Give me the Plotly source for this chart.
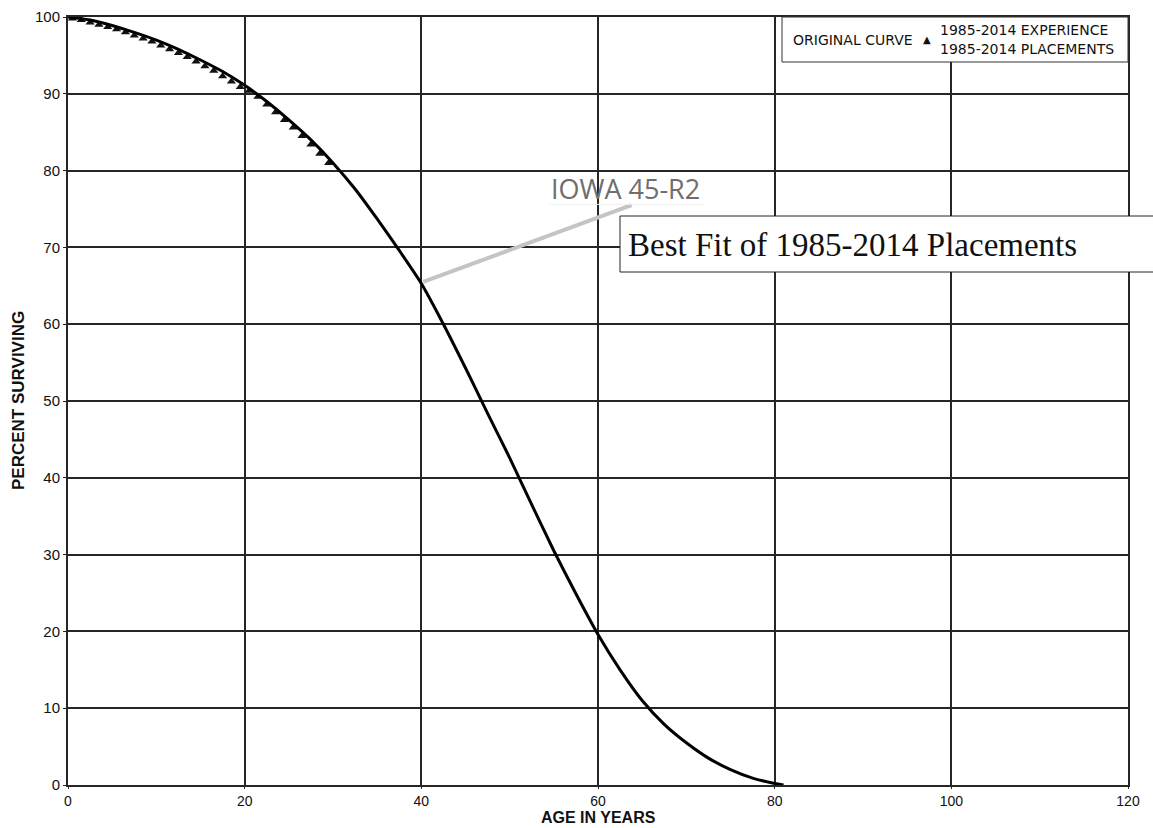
import plotly.graph_objects as go

# Iowa 45-R2 survivor curve (age in years, percent surviving)
curve_age = [0, 2.5, 5, 7.5, 10, 12.5, 15, 17.5, 20, 22.5, 25, 27.5, 30, 32.5, 35,
             37.5, 40, 42.5, 45, 47.5, 50, 52.5, 55, 57.5, 60, 62.5, 65, 67.5, 70,
             72.5, 75, 77.5, 80, 81]
curve_pct = [100, 99.6, 98.9, 98.0, 97.0, 95.8, 94.4, 92.9, 91.1, 89.0, 86.6, 84.0,
             81.0, 77.6, 73.7, 69.6, 65.3, 60.0, 54.3, 48.4, 42.6, 36.5, 30.5, 24.9,
             19.6, 15.0, 11.0, 7.9, 5.5, 3.5, 2.0, 0.9, 0.2, 0]

# 1985-2014 experience, observed percent surviving at mid-year ages
exp_age = [0.5, 1.5, 2.5, 3.5, 4.5, 5.5, 6.5, 7.5, 8.5, 9.5, 10.5, 11.5, 12.5, 13.5,
           14.5, 15.5, 16.5, 17.5, 18.5, 19.5, 20.5, 21.5, 22.5, 23.5, 24.5, 25.5,
           26.5, 27.5, 28.5, 29.5]
exp_pct = [99.8, 99.6, 99.3, 99.0, 98.7, 98.4, 98.0, 97.6, 97.2, 96.8, 96.3, 95.8,
           95.3, 94.8, 94.2, 93.6, 93.0, 92.3, 91.6, 90.9, 90.4, 89.6, 88.6, 87.6,
           86.6, 85.6, 84.5, 83.4, 82.2, 81.0]

x_ticks = [0, 20, 40, 60, 80, 100, 120]
y_ticks = [0, 10, 20, 30, 40, 50, 60, 70, 80, 90, 100]

GRID = "#262626"
TEXT = "#111111"

# plot area in pixels, used to place the key, captions and axis titles
L, R, T, B = 68, 1128, 17, 785


def px(xp):
    return (xp - L) / (R - L)


def py(yp):
    return (B - yp) / (B - T)


fig = go.Figure()

fig.add_trace(go.Scatter(
    x=exp_age, y=exp_pct, mode="markers",
    name="1985-2014 EXPERIENCE",
    marker=dict(symbol="triangle-up", size=8, color="#111111"),
    showlegend=False,
))

fig.add_trace(go.Scatter(
    x=curve_age, y=curve_pct, mode="lines",
    name="IOWA 45-R2",
    line=dict(color="#000000", width=3, shape="spline", smoothing=0.6),
    showlegend=False,
))

# Key box
fig.add_shape(type="rect", xref="paper", yref="paper",
              x0=px(782), x1=px(1128), y0=py(62), y1=py(17),
              line=dict(color="#333333", width=1), fillcolor="white", layer="above")
fig.add_annotation(x=px(791), y=py(40), xref="paper", yref="paper",
                   xanchor="left", yanchor="middle", showarrow=False,
                   text="ORIGINAL CURVE",
                   font=dict(family="DejaVu Sans", size=14, color=TEXT))
fig.add_annotation(x=px(927), y=py(39), xref="paper", yref="paper",
                   xanchor="center", yanchor="middle", showarrow=False,
                   text="▲", font=dict(family="DejaVu Sans", size=10, color=TEXT))
fig.add_annotation(x=px(938), y=py(30), xref="paper", yref="paper",
                   xanchor="left", yanchor="middle", showarrow=False,
                   text="1985-2014 EXPERIENCE",
                   font=dict(family="DejaVu Sans", size=14, color=TEXT))
fig.add_annotation(x=px(938), y=py(49), xref="paper", yref="paper",
                   xanchor="left", yanchor="middle", showarrow=False,
                   text="1985-2014 PLACEMENTS",
                   font=dict(family="DejaVu Sans", size=14, color=TEXT))

# Label of the fitted curve with its leader line
fig.add_shape(type="line", xref="x", yref="y", x0=63.8, y0=75.5, x1=40.2, y1=65.5,
              line=dict(color="#c4c4c4", width=4), layer="above")
fig.add_shape(type="line", xref="x", yref="y", x0=54.5, y0=75.6, x1=72.0, y1=75.6,
              line=dict(color="#eeeeee", width=1), layer="above")
fig.add_annotation(x=px(625), y=py(188), xref="paper", yref="paper", text="IOWA 45-R2",
                   xanchor="center", yanchor="middle",
                   showarrow=False, font=dict(family="Open Sans", size=27, color="#6e6e6e"))

# Caption box
fig.add_shape(type="rect", xref="paper", yref="paper",
              x0=px(620), x1=px(1170), y0=py(272), y1=py(216),
              line=dict(color="#222222", width=1), fillcolor="white", layer="above")
fig.add_annotation(x=px(626), y=py(245), xref="paper", yref="paper",
                   xanchor="left", yanchor="middle", showarrow=False,
                   text="Best Fit of 1985-2014 Placements",
                   font=dict(family="Liberation Serif", size=33, color=TEXT))

# Axis titles
fig.add_annotation(x=px(598), y=py(817), xref="paper", yref="paper",
                   xanchor="center", yanchor="middle", showarrow=False,
                   text="<b>AGE IN YEARS</b>",
                   font=dict(family="Liberation Sans", size=16, color=TEXT))
fig.add_annotation(x=px(18), y=py(401), xref="paper", yref="paper",
                   xanchor="center", yanchor="middle", showarrow=False, textangle=-90,
                   text="<b>PERCENT SURVIVING</b>",
                   font=dict(family="Liberation Sans", size=17, color=TEXT))

fig.update_layout(
    width=1153, height=828,
    margin=dict(l=L, r=1153 - R, t=T, b=828 - B, autoexpand=False),
    paper_bgcolor="white", plot_bgcolor="white",
    font=dict(family="Liberation Sans", color=TEXT),
    showlegend=False,
    xaxis=dict(
        range=[0, 120], tickvals=x_ticks, ticktext=[str(v) for v in x_ticks],
        showgrid=True, gridcolor=GRID, gridwidth=2,
        showline=True, linecolor=GRID, linewidth=2, mirror=True,
        ticks="outside", ticklen=2, tickcolor=GRID, zeroline=False,
        tickfont=dict(size=14, color=TEXT), automargin=False,
    ),
    yaxis=dict(
        range=[0, 100], tickvals=y_ticks, ticktext=[str(v) for v in y_ticks],
        showgrid=True, gridcolor=GRID, gridwidth=2,
        showline=True, linecolor=GRID, linewidth=2, mirror=True,
        ticks="outside", ticklen=3, tickcolor=GRID, zeroline=False,
        tickfont=dict(size=15, color=TEXT), automargin=False,
    ),
)

fig.write_html("out.html")
